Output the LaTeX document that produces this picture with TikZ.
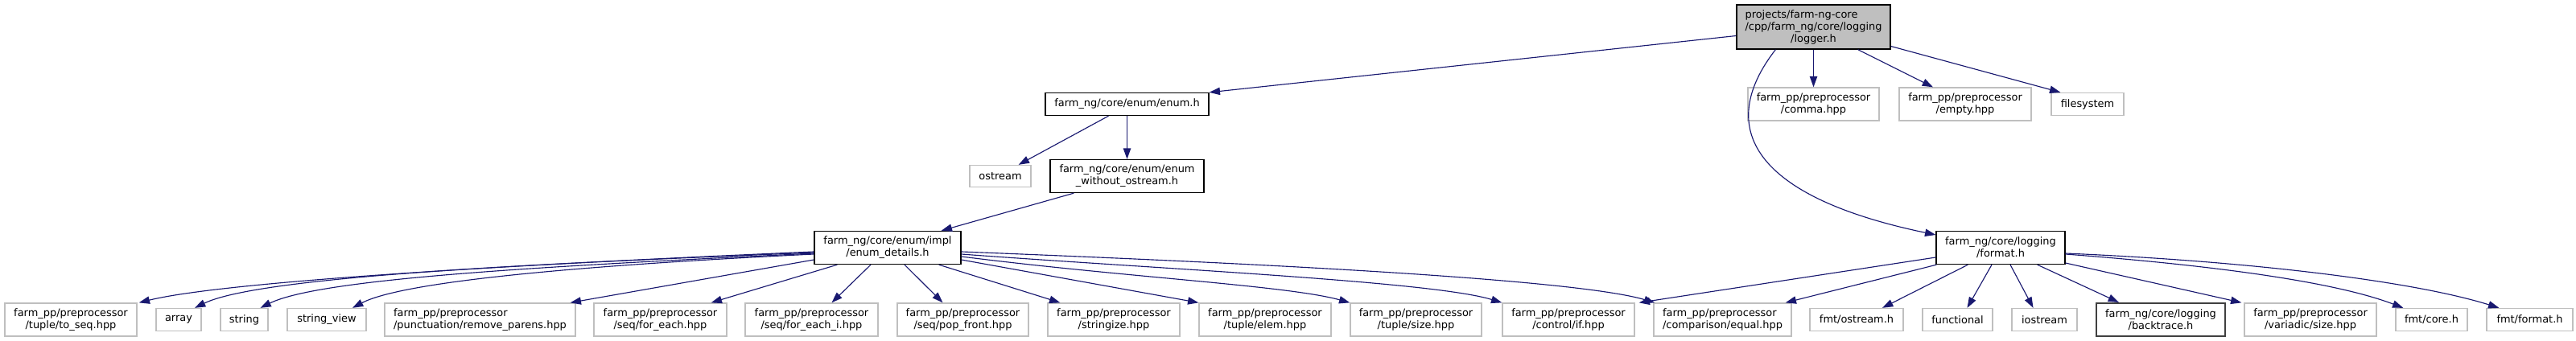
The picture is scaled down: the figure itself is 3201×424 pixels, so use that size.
\documentclass[tikz,border=0pt]{standalone}
\usepackage{fontspec}
\setmainfont{DejaVu Sans}
\usetikzlibrary{arrows.meta, calc}
\definecolor{edgeblue}{HTML}{191970}
\definecolor{extgrey}{HTML}{BFBFBF}
\definecolor{darkrim}{HTML}{404040}
\tikzset{
    file box/.style 2 args={
        draw, rectangle, inner xsep=0pt, inner ysep=0pt,
        minimum width=#1*0.75pt, minimum height=#2*0.75pt,
        font=\fontsize{9.7}{11.25}\selectfont, align=center
    },
    inc file/.style 2 args={file box={#1}{#2}, draw=black, line width=1pt},
    ext file/.style 2 args={file box={#1}{#2}, draw=extgrey, line width=1pt},
    root file/.style 2 args={file box={#1}{#2}, draw=black, fill=extgrey, line width=1pt},
    dark file/.style 2 args={file box={#1}{#2}, draw=darkrim, line width=1.5pt},
    dep/.style={draw=edgeblue, line width=0.85pt, -{Triangle[length=10pt, width=7pt]}}
}
\newcommand*\padline[2]{\makebox[0pt][l]{#1}\phantom{#2}}

\begin{document}
\begin{tikzpicture}[x=0.75pt, y=-0.75pt]
    \useasboundingbox (0,0) rectangle (3201,424);
    % top rows
    \node[root file={191}{55}] (logger) at (2253.5,33.5)
        {\padline{projects/farm-ng-core}{/cpp/farm\_ng/core/logging}\\/cpp/farm\_ng/core/logging\\/logger.h};
    \node[inc file={203}{28}] (enumh) at (1400.5,129.5) {farm\_ng/core/enum/enum.h};
    \node[ext file={163}{41}] (comma) at (2253.5,129.5) {farm\_pp/preprocessor\\/comma.hpp};
    \node[ext file={164}{41}] (empty) at (2442,129.5) {farm\_pp/preprocessor\\/empty.hpp};
    \node[ext file={90}{28}] (filesystem) at (2594,129.5) {filesystem};
    \node[ext file={76}{27}] (ostream) at (1243,219) {ostream};
    \node[inc file={191}{41}] (woostream) at (1400.5,219) {farm\_ng/core/enum/enum\\\_without\_ostream.h};
    \node[inc file={182}{41}] (details) at (1103,308) {farm\_ng/core/enum/impl\\/enum\_details.h};
    \node[inc file={160}{41}] (formath) at (2486,308) {farm\_ng/core/logging\\/format.h};
    % bottom row
    \node[ext file={164}{41}] (toseq) at (88,397.5) {farm\_pp/preprocessor\\/tuple/to\_seq.hpp};
    \node[ext file={56}{28}] (array) at (222,397.5) {array};
    \node[ext file={59}{28}] (string) at (303.5,397.5) {string};
    \node[ext file={98}{28}] (stringview) at (406,397.5) {string\_view};
    \node[ext file={237}{41}, align=left] (removeparens) at (596.5,397.5) {farm\_pp/preprocessor\\/punctuation/remove\_parens.hpp};
    \node[ext file={165}{41}] (foreach) at (820.5,397.5) {farm\_pp/preprocessor\\/seq/for\_each.hpp};
    \node[ext file={165}{41}] (foreachi) at (1008.5,397.5) {farm\_pp/preprocessor\\/seq/for\_each\_i.hpp};
    \node[ext file={163}{41}] (popfront) at (1196.5,397.5) {farm\_pp/preprocessor\\/seq/pop\_front.hpp};
    \node[ext file={164}{41}] (stringize) at (1384,397.5) {farm\_pp/preprocessor\\/stringize.hpp};
    \node[ext file={164}{41}] (elem) at (1572,397.5) {farm\_pp/preprocessor\\/tuple/elem.hpp};
    \node[ext file={163}{41}] (tsize) at (1759.5,397.5) {farm\_pp/preprocessor\\/tuple/size.hpp};
    \node[ext file={164}{41}] (ctrlif) at (1949,397.5) {farm\_pp/preprocessor\\/control/if.hpp};
    \node[ext file={171}{41}, align=left] (equal) at (2140.5,397.5) {farm\_pp/preprocessor\\/comparison/equal.hpp};
    \node[ext file={116}{28}] (fmtostream) at (2307,397.5) {fmt/ostream.h};
    \node[ext file={87}{28}] (functional) at (2432.5,397.5) {functional};
    \node[ext file={81}{28}] (iostream) at (2540.5,397.5) {iostream};
    \node[dark file={160}{41}] (backtrace) at (2685,397.5) {farm\_ng/core/logging\\/backtrace.h};
    \node[ext file={164}{41}] (vsize) at (2871,397.5) {farm\_pp/preprocessor\\/variadic/size.hpp};
    \node[ext file={89}{28}] (fmtcore) at (3021.5,397.5) {fmt/core.h};
    \node[ext file={107}{28}] (fmtformat) at (3143.5,397.5) {fmt/format.h};
    % logger.h
    \draw[dep] ($(logger.west)+(0,11)$) -- (enumh.north east);
    \draw[dep] ($(logger.south west)+(49,0)$) .. controls (2130,160) and (2180,245) .. ($(formath.west)+(0,-16)$);
    \draw[dep] (logger.south) -- (comma.north);
    \draw[dep] ($(logger.south east)+(-41,0)$) -- ($(empty.north)+(-40,0)$);
    \draw[dep] ($(logger.east)+(0,24)$) -- ($(filesystem.north west)+(12,0)$);
    % enum.h
    \draw[dep] ($(enumh.south)+(-23,0)$) -- ($(ostream.north east)+(-16,0)$);
    \draw[dep] (enumh.south) -- (woostream.north);
    \draw[dep] ($(woostream.south west)+(30,0)$) -- ($(details.north east)+(-25,0)$);
    % enum_details.h
    \draw[dep] ($(details.west)+(0,5)$) .. controls (800,322) and (300,345) .. ($(toseq.north east)+(2,0)$);
    \draw[dep] ($(details.west)+(0,6)$) .. controls (750,325) and (330,340) .. ($(array.north)+(20,0)$);
    \draw[dep] ($(details.west)+(0,7)$) .. controls (700,330) and (400,345) .. ($(string.north)+(20,0)$);
    \draw[dep] ($(details.west)+(0,8)$) .. controls (720,330) and (500,350) .. ($(stringview.north)+(32,0)$);
    \draw[dep] ($(details.west)+(0,15)$) -- ($(removeparens.north east)+(-7,0)$);
    \draw[dep] ($(details.south west)+(29,0)$) -- ($(foreach.north east)+(-20,0)$);
    \draw[dep] ($(details.south)+(-21,0)$) -- ($(foreachi.north)+(25,0)$);
    \draw[dep] ($(details.south)+(21,0)$) -- ($(popfront.north)+(-25,0)$);
    \draw[dep] ($(details.south east)+(-28,0)$) -- ($(stringize.north west)+(16,0)$);
    \draw[dep] ($(details.east)+(0,15)$) -- (elem.north west);
    \draw[dep] ($(details.east)+(0,11)$) .. controls (1400,345) and (1600,355) .. (tsize.north west);
    \draw[dep] ($(details.east)+(0,8)$) .. controls (1450,335) and (1780,350) .. (ctrlif.north west);
    \draw[dep] ($(details.east)+(0,5)$) .. controls (1500,325) and (1950,345) .. ($(equal.north west)+(2,0)$);
    % format.h
    \draw[dep] ($(formath.west)+(0,12)$) -- ($(ctrlif.north east)+(5,0)$);
    \draw[dep] ($(formath.south west)+(1,0)$) -- ($(equal.north east)+(-8,0)$);
    \draw[dep] ($(formath.south west)+(40,0)$) -- ($(fmtostream.north)+(32,0)$);
    \draw[dep] ($(formath.south)+(-11,0)$) -- ($(functional.north)+(12,0)$);
    \draw[dep] ($(formath.south)+(12,0)$) -- ($(iostream.north)+(-14,0)$);
    \draw[dep] ($(formath.south east)+(-35,0)$) -- ($(backtrace.north west)+(29,0)$);
    \draw[dep] ($(formath.east)+(0,19)$) -- ($(vsize.north west)+(-3,0)$);
    \draw[dep] ($(formath.east)+(0,8)$) .. controls (2750,330) and (2900,350) .. ($(fmtcore.north west)+(10,0)$);
    \draw[dep] ($(formath.east)+(0,7)$) .. controls (2800,325) and (3000,350) .. ($(fmtformat.north west)+(16,0)$);
\end{tikzpicture}
\end{document}
